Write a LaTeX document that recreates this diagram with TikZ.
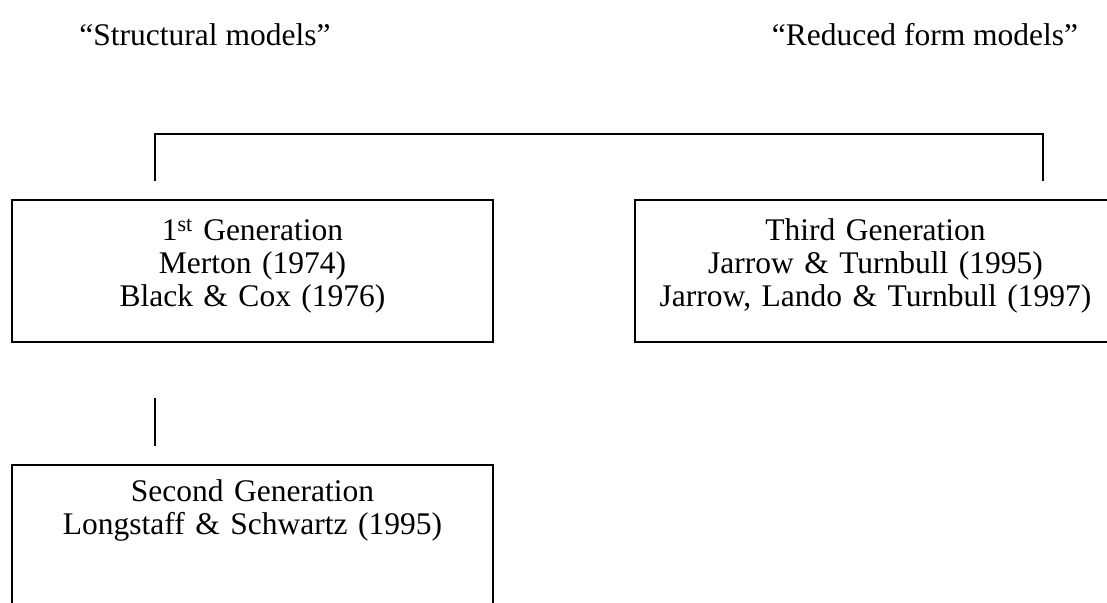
\documentclass[tikz,border=0pt]{standalone}
\usepackage{fontspec}
\setmainfont{Liberation Serif}
\usetikzlibrary{calc}
\tikzstyle{heading} = [font=\fontsize{31.5}{33}\selectfont, inner sep=0pt]
\tikzstyle{generation} = [rectangle, text width=481pt, inner sep=0pt, text centered, draw=black, line width=1.5pt, font=\fontsize{31.5}{33}\selectfont]
\tikzstyle{link} = [line width=2pt]
\begin{document}
\begin{tikzpicture}[x=1pt, y=1pt, node distance=265pt]
\clip (0,0) rectangle (1107,602);

\node (structural) [heading] at (205,567) {“Structural models”};
\node (reduced) [heading] at (925,567) {“Reduced form models”};

\node (first) [generation, text height=41pt, text depth=101pt] at (252.5,331) {1\textsuperscript{st} Generation\\ Merton (1974)\\ Black \& Cox (1976)};

\node (third) [generation, right of=first, xshift=358pt, text height=41pt, text depth=101pt] {Third Generation\\ Jarrow \& Turnbull (1995)\\ Jarrow, Lando \& Turnbull (1997)};

\node (second) [generation, below of=first, text height=37pt, text depth=105pt] {Second Generation\\ Longstaff \& Schwartz (1995)};

\coordinate (leftfoot) at ($(first.north west)+(144,18)$);
\coordinate (rightfoot) at ($(third.north west)+(409,18)$);
\coordinate (midtop) at ($(first.south west)+(144,-55)$);
\coordinate (midbot) at ($(second.north west)+(144,18)$);

\draw [link] (leftfoot) -- ++(0,47) -| (rightfoot);
\draw [link] (midtop) -- (midbot);

\end{tikzpicture}
\end{document}
